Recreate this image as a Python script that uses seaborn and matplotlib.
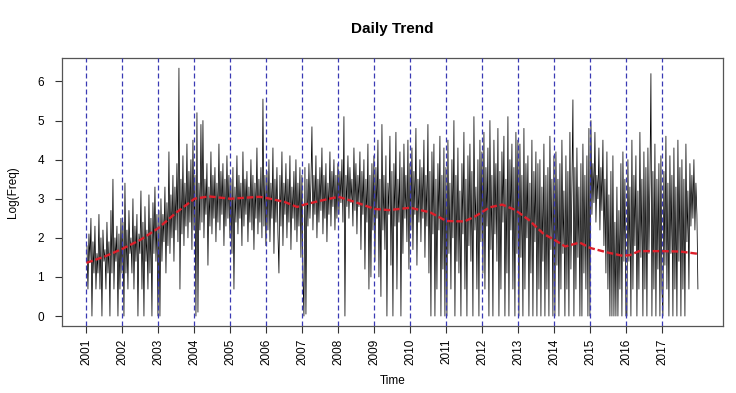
import numpy as np
import pandas as pd
import matplotlib
matplotlib.use("Agg")
import matplotlib.pyplot as plt
import seaborn as sns

sns.set_theme(style="white")
plt.rcParams['font.family'] = ['Liberation Sans', 'DejaVu Sans']
plt.rcParams['text.color'] = 'black'
plt.rcParams['axes.labelcolor'] = 'black'
plt.rcParams['xtick.color'] = 'black'
plt.rcParams['ytick.color'] = 'black'

# log daily counts at three points per month (swings up / down)
v2001 = [1.8, 0.69, 2.1, 1.4, 2.5, 0, 1.9, 1.1, 2.3, 0.69, 1.6, 1.1, 2.6, 0.69, 2.0, 0, 2.2, 1.4,
         1.7, 0.69, 2.4, 1.1, 1.9, 0, 2.7, 1.1, 3.5, 0.69, 2.0, 1.4, 2.3, 0, 2.1, 0.69, 2.5, 1.1]
v2002 = [2.4, 0, 3.4, 1.1, 2.2, 0.69, 2.7, 1.6, 2.0, 1.1, 3.0, 0.69, 2.3, 1.4, 2.6, 0, 2.1, 1.6,
         3.2, 0.69, 2.4, 0, 2.8, 1.4, 2.2, 0.69, 3.1, 1.1, 2.5, 0, 2.9, 1.6, 3.3, 1.4, 2.6, 0]
v2003 = [2.7, 0, 3.0, 1.4, 2.6, 1.9, 3.3, 1.1, 2.9, 1.8, 4.2, 1.6, 3.1, 2.0, 3.6, 1.4, 3.3, 2.2,
         3.9, 1.9, 6.34, 0.69, 3.5, 2.1, 4.1, 1.8, 3.4, 2.3, 4.4, 2.0, 3.7, 2.4, 4.0, 1.7, 4.5, 2.2]
v2004 = [3.6, 0, 5.2, 0.1, 3.4, 2.2, 4.9, 2.4, 5.0, 2.0, 3.5, 2.6, 3.9, 1.3, 3.3, 2.3, 4.2, 2.1,
         3.6, 2.5, 3.8, 1.9, 3.4, 2.4, 4.4, 2.2, 3.7, 2.6, 3.9, 1.8, 3.5, 2.3, 4.1, 2.5, 3.6, 2.0]
v2005 = [3.5, 1.6, 3.8, 0.69, 3.3, 2.4, 4.1, 2.1, 3.6, 2.5, 3.4, 1.8, 4.2, 2.3, 3.5, 2.6, 3.7, 1.9,
         3.3, 2.4, 4.0, 2.2, 3.6, 1.7, 3.4, 2.5, 4.3, 2.1, 3.5, 2.4, 3.8, 2.0, 5.55, 2.3, 3.6, 1.8]
v2006 = [3.7, 2.2, 4.0, 1.9, 3.4, 2.5, 4.3, 1.6, 3.5, 2.4, 3.8, 2.1, 1.1, 3.6, 2.3, 4.2, 1.8, 3.4,
         2.6, 3.9, 2.0, 3.5, 2.4, 4.1, 1.7, 3.3, 2.5, 3.7, 2.2, 4.0, 1.9, 3.4, 2.3, 3.8, 1.5, 3.6]
v2007 = [1.0, 0, 3.8, 0.05, 3.5, 2.3, 3.9, 2.5, 3.4, 4.84, 2.2, 3.6, 2.6, 4.1, 2.0, 3.5, 2.4, 3.8,
         2.7, 4.3, 2.1, 3.6, 2.5, 3.9, 1.9, 3.4, 2.6, 4.2, 2.3, 3.7, 2.8, 4.0, 2.2, 3.6, 2.5, 3.9]
v2008 = [2.6, 3.7, 2.9, 4.0, 2.4, 5.1, 0, 3.6, 2.8, 4.1, 2.5, 3.8, 2.9, 3.5, 2.3, 4.3, 2.7, 3.9,
         2.1, 3.6, 2.8, 4.2, 1.7, 3.7, 2.6, 4.0, 1.2, 3.5, 2.4, 4.4, 0.69, 3.6, 1.0, 3.9, 2.2, 4.1]
v2009 = [1.4, 3.8, 2.5, 4.5, 1.0, 3.5, 0.5, 4.9, 2.2, 3.6, 1.7, 4.1, 0, 3.4, 2.6, 4.6, 1.3, 3.7,
         0, 3.9, 2.3, 4.7, 0.69, 3.5, 2.4, 4.2, 0, 3.8, 1.6, 4.4, 2.5, 3.6, 1.9, 4.5, 1.2, 3.9]
v2010 = [2.2, 4.3, 1.7, 3.7, 2.6, 4.8, 1.3, 3.5, 2.4, 4.0, 1.9, 3.8, 2.5, 4.5, 1.5, 3.6, 2.3, 4.9,
         1.1, 3.7, 0, 4.2, 2.1, 4.4, 0, 3.5, 0.69, 3.9, 2.2, 4.6, 0, 3.6, 1.2, 4.3, 0, 3.8]
v2011 = [0, 4.5, 1.6, 3.4, 0.69, 4.0, 2.0, 5.0, 0, 3.6, 1.4, 4.3, 1.1, 3.2, 0, 3.9, 2.1, 4.7,
         0.69, 3.5, 0, 4.1, 1.8, 4.4, 1.4, 3.7, 0, 5.1, 2.2, 3.3, 0.69, 4.0, 0, 4.5, 1.9, 4.2]
v2012 = [1.1, 4.7, 0.69, 3.8, 2.3, 4.3, 0, 5.0, 1.7, 3.6, 0, 4.5, 2.1, 3.9, 1.4, 4.8, 0, 3.7,
         0.69, 4.2, 2.4, 4.6, 0, 3.5, 1.1, 5.1, 0, 4.0, 2.2, 4.4, 0.69, 3.8, 0, 4.7, 1.6, 4.5]
v2013 = [0, 4.4, 1.5, 3.6, 0, 4.8, 0.69, 3.9, 2.0, 4.1, 0, 3.4, 1.1, 4.5, 0, 3.7, 1.9, 4.2,
         0, 3.9, 0.69, 4.0, 0, 3.3, 1.4, 4.4, 0, 3.6, 0.69, 3.8, 0, 4.6, 1.7, 3.5, 0, 4.1]
v2014 = [0, 4.2, 1.3, 3.5, 0, 3.9, 0.69, 4.5, 1.6, 3.2, 0, 4.1, 0.69, 3.7, 0, 4.7, 1.2, 3.4,
         5.53, 0, 3.8, 0.69, 4.3, 1.5, 3.3, 0, 3.9, 0, 4.4, 1.1, 3.6, 0.69, 4.1, 0, 4.8, 0]
v2015 = [5.0, 2.6, 3.9, 2.9, 4.7, 2.4, 3.6, 3.0, 4.3, 2.2, 3.8, 2.7, 4.5, 1.8, 3.5, 1.1, 4.2, 0.69,
         3.1, 0, 3.7, 0, 4.1, 0, 2.4, 0, 3.3, 0, 2.7, 0.69, 3.9, 0, 4.2, 1.4, 3.5, 0]
v2016 = [0, 4.0, 1.4, 3.3, 0, 4.5, 0.69, 3.6, 1.8, 4.1, 0, 3.2, 0.69, 4.7, 1.5, 3.5, 0, 4.2,
         0.69, 3.8, 0, 4.3, 1.6, 3.4, 6.2, 0, 3.7, 0.69, 4.4, 0, 3.5, 1.2, 3.9, 0, 4.1, 0.69]
v2017 = [0, 3.7, 1.3, 4.6, 0.69, 3.4, 0, 4.1, 1.6, 3.6, 0, 4.3, 0.69, 3.3, 0, 4.5, 1.4, 3.8,
         0, 4.0, 0.69, 3.5, 0, 4.4, 1.9, 3.2, 0.69, 3.9, 2.3, 3.6, 2.5, 4.0, 2.2, 3.4, 2.6, 0.69]

# smoothed trend (red dashed line)
trend_time = [2001.0, 2001.5, 2002.0, 2002.5, 2003.0, 2003.5, 2004.0, 2004.4, 2005.0, 2005.8,
              2006.0, 2006.5, 2006.85, 2007.05, 2007.5, 2008.0, 2008.45, 2009.0, 2009.4, 2010.0,
              2010.55, 2011.0, 2011.5, 2011.8, 2012.2, 2012.55, 2012.9, 2013.3, 2013.7, 2014.0,
              2014.3, 2014.7, 2015.0, 2015.5, 2015.9, 2016.1, 2016.35, 2017.0, 2017.5, 2018.0]
trend_vals = [1.36, 1.52, 1.72, 1.95, 2.25, 2.65, 3.0, 3.06, 3.0, 3.05,
              3.02, 2.92, 2.79, 2.85, 2.95, 3.05, 2.92, 2.74, 2.71, 2.77,
              2.65, 2.43, 2.42, 2.55, 2.78, 2.85, 2.72, 2.45, 2.1, 1.95,
              1.78, 1.88, 1.74, 1.62, 1.54, 1.56, 1.66, 1.66, 1.65, 1.59]

year_marks = list(range(2001, 2018))
y_ticks = [0, 1, 2, 3, 4, 5, 6]

yearly = [v2001, v2002, v2003, v2004, v2005, v2006, v2007, v2008, v2009,
          v2010, v2011, v2012, v2013, v2014, v2015, v2016, v2017]
t = np.concatenate([yr + (np.arange(len(v)) + 0.5) / len(v) for yr, v in zip(year_marks, yearly)])
df = pd.DataFrame({"Time": t, "LogFreq": np.concatenate(yearly)})
trend = pd.DataFrame({"Time": trend_time, "LogFreq": trend_vals})

fig = plt.figure(figsize=(7.36, 3.93), dpi=100)
ax = fig.add_axes([0.0842, 0.1705, 0.898, 0.682])

sns.lineplot(data=df, x="Time", y="LogFreq", ax=ax, color="black", linewidth=0.55,
             estimator=None, sort=False)
for yr in year_marks:
    ax.axvline(yr, color="#3a3ab4", linewidth=0.9, linestyle=(0, (4, 2.4)), zorder=3)
sns.lineplot(data=trend, x="Time", y="LogFreq", ax=ax, color="#dd1f2a", linewidth=1.7,
             linestyle=(0, (2.8, 1.2)), estimator=None, sort=False, zorder=4)

ax.set_xlim(2000.32, 2018.68)
ax.set_ylim(-0.254, 6.60)
ax.set_xticks(year_marks)
ax.set_xticklabels([str(y) for y in year_marks], rotation=90, fontsize=8.5)
ax.set_yticks(y_ticks)
ax.set_yticklabels([str(y) for y in y_ticks], fontsize=8.5)
ax.tick_params(axis="both", length=5, width=0.8, color="#333333", direction="out",
               bottom=True, left=True)
ax.tick_params(axis="y", pad=8)
ax.tick_params(axis="x", pad=4)
for s in ax.spines.values():
    s.set_color("#555555")
    s.set_linewidth(0.9)
ax.set_xlabel("Time", fontsize=8.5, labelpad=7)
ax.set_ylabel("Log(Freq)", fontsize=8.5, labelpad=13)
ax.set_title("Daily Trend", fontsize=11, fontweight="bold", pad=18)

fig.savefig("out.png", dpi=100)
